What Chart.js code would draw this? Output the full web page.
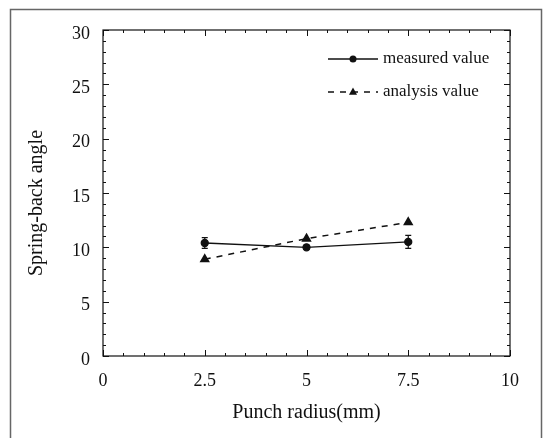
<!DOCTYPE html>
<html>
<head>
<meta charset="utf-8">
<script src="https://cdn.jsdelivr.net/npm/chart.js@4/dist/chart.umd.min.js"></script>
<style>
html,body{margin:0;padding:0;background:#fff;}
#wrap{position:relative;width:545px;height:438px;}
</style>
</head>
<body>
<div id="wrap"><canvas id="c" width="545" height="438"></canvas></div>
<script>
// ---- data ----
const punchRadius = [2.5, 5, 7.5];
const measuredValue = [10.4, 10.0, 10.5];
const measuredError = [0.5, 0.2, 0.6];
const analysisValue = [8.9, 10.8, 12.3];
const seriesNames = ['measured value', 'analysis value'];
const xTickValues = [0, 2.5, 5, 7.5, 10];
const yTickValues = [0, 5, 10, 15, 20, 25, 30];
const xMinorStep = 0.5;
const yMinorStep = 1;
const xTitle = 'Punch radius(mm)';
const yTitle = 'Spring-back angle';

const SERIF = '"Liberation Serif", "Times New Roman", serif';

const framePlugin = {
  id: 'frame',
  beforeDraw(chart) {
    const ctx = chart.ctx;
    ctx.save();
    ctx.strokeStyle = '#666';
    ctx.lineWidth = 1.5;
    ctx.beginPath();
    ctx.moveTo(10.5, 438);
    ctx.lineTo(10.5, 9.5);
    ctx.lineTo(541.5, 9.5);
    ctx.lineTo(541.5, 438);
    ctx.stroke();
    ctx.restore();
  },
  afterDraw(chart) {
    const {ctx, chartArea: a, scales} = chart;
    const xs = scales.x, ys = scales.y;
    ctx.save();
    ctx.strokeStyle = '#111';
    ctx.lineWidth = 1.2;
    ctx.strokeRect(a.left, a.top, a.right - a.left, a.bottom - a.top);
    ctx.lineWidth = 1;
    ctx.beginPath();
    const nx = Math.round((xs.max - xs.min) / xMinorStep);
    for (let i = 0; i <= nx; i++) {
      const v = xs.min + i * xMinorStep;
      const p = Math.round(xs.getPixelForValue(v)) + 0.5;
      const L = xTickValues.includes(v) ? 6 : 3;
      ctx.moveTo(p, a.bottom); ctx.lineTo(p, a.bottom - L);
      ctx.moveTo(p, a.top); ctx.lineTo(p, a.top + L);
    }
    const ny = Math.round((ys.max - ys.min) / yMinorStep);
    for (let i = 0; i <= ny; i++) {
      const v = ys.min + i * yMinorStep;
      const p = Math.round(ys.getPixelForValue(v)) + 0.5;
      const L = yTickValues.includes(v) ? 6 : 3;
      ctx.moveTo(a.left, p); ctx.lineTo(a.left + L, p);
      ctx.moveTo(a.right, p); ctx.lineTo(a.right - L, p);
    }
    ctx.stroke();

    // error bars
    ctx.lineWidth = 1.2;
    ctx.beginPath();
    punchRadius.forEach((x, i) => {
      const px = xs.getPixelForValue(x);
      const hi = ys.getPixelForValue(measuredValue[i] + measuredError[i]);
      const lo = ys.getPixelForValue(measuredValue[i] - measuredError[i]);
      ctx.moveTo(px, hi); ctx.lineTo(px, lo);
      ctx.moveTo(px - 3, hi); ctx.lineTo(px + 3, hi);
      ctx.moveTo(px - 3, lo); ctx.lineTo(px + 3, lo);
    });
    ctx.stroke();

    // y axis title
    ctx.fillStyle = '#111';
    ctx.font = '20px ' + SERIF;
    ctx.textAlign = 'center';
    ctx.textBaseline = 'middle';
    ctx.save();
    ctx.translate(37, (a.top + a.bottom) / 2 + 10);
    ctx.rotate(-Math.PI / 2);
    ctx.fillText(yTitle, 0, 0);
    ctx.restore();

    // legend
    const x1 = a.right - 182, x2 = a.right - 132, xm = a.right - 157, xt = a.right - 127;
    const rows = [a.top + 29, a.top + 62];
    chart.data.datasets.forEach((ds, k) => {
      const y = rows[k];
      ctx.strokeStyle = '#111';
      ctx.lineWidth = ds.borderWidth;
      ctx.setLineDash(ds.borderDash || []);
      ctx.beginPath(); ctx.moveTo(x1, y); ctx.lineTo(x2, y); ctx.stroke();
      ctx.setLineDash([]);
      ctx.fillStyle = '#111';
      if (ds.pointStyle === 'triangle') {
        const r = ds.pointRadius;
        ctx.beginPath();
        ctx.moveTo(xm, y - r); ctx.lineTo(xm + r * 0.9, y + r * 0.6); ctx.lineTo(xm - r * 0.9, y + r * 0.6);
        ctx.closePath(); ctx.fill();
      } else {
        ctx.beginPath(); ctx.arc(xm, y, ds.pointRadius, 0, Math.PI * 2); ctx.fill();
      }
      ctx.font = '17px ' + SERIF;
      ctx.textBaseline = 'middle';
      ctx.textAlign = 'left';
      ctx.fillText(ds.label, xt, y);
    });
    ctx.restore();
  }
};

new Chart(document.getElementById('c'), {
  type: 'line',
  data: {
    datasets: [
      {
        label: seriesNames[0],
        data: punchRadius.map((x, i) => ({x, y: measuredValue[i]})),
        borderColor: '#111', backgroundColor: '#111',
        borderWidth: 1.3, pointStyle: 'circle', pointRadius: 3.5,
        pointBackgroundColor: '#111', pointBorderColor: '#111', tension: 0
      },
      {
        label: seriesNames[1],
        data: punchRadius.map((x, i) => ({x, y: analysisValue[i]})),
        borderColor: '#111', backgroundColor: '#111',
        borderWidth: 1.5, borderDash: [6, 6], pointStyle: 'triangle', pointRadius: 4.5,
        pointBackgroundColor: '#111', pointBorderColor: '#111', tension: 0
      }
    ]
  },
  options: {
    responsive: false,
    animation: false,
    events: [],
    layout: {padding: {left: 0, top: 30, right: 35, bottom: 0}},
    plugins: {legend: {display: false}, tooltip: {enabled: false}},
    scales: {
      x: {
        type: 'linear', min: 0, max: 10,
        afterBuildTicks(s) { s.ticks = xTickValues.map(v => ({value: v})); },
        afterFit(s) { s.height = 82; },
        grid: {display: false, drawTicks: false},
        border: {display: false},
        ticks: {
          color: '#111', padding: 14, maxRotation: 0, autoSkip: false,
          font: {family: SERIF, size: 18},
          callback: v => String(v)
        },
        title: {display: true, text: xTitle, color: '#111',
          font: {family: SERIF, size: 20}, padding: {top: 0, bottom: 13}}
      },
      y: {
        type: 'linear', min: 0, max: 30,
        afterBuildTicks(s) { s.ticks = yTickValues.map(v => ({value: v})); },
        afterFit(s) { s.width = 103; },
        grid: {display: false, drawTicks: false},
        border: {display: false},
        ticks: {
          color: '#111', padding: 13, labelOffset: 4,
          font: {family: SERIF, size: 18},
          callback: v => String(v)
        },
        title: {display: false}
      }
    }
  },
  plugins: [framePlugin]
});
</script>
</body>
</html>
